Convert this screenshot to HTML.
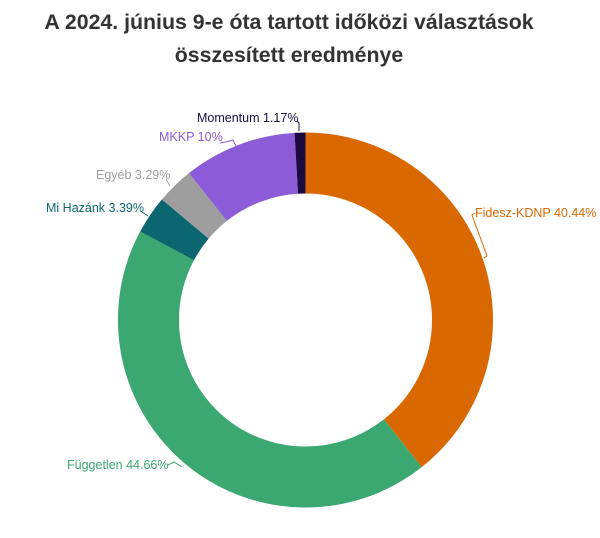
<!DOCTYPE html>
<html><head><meta charset="utf-8"><style>
body{margin:0;width:600px;height:538px;background:#fff;font-family:"Liberation Sans",sans-serif;overflow:hidden}
.t{position:absolute;left:0;width:578px;text-align:center;font-weight:bold;font-size:21.3px;color:#333}
</style></head><body>
<div class="t" style="top:10px">A 2024. június 9-e óta tartott időközi választások</div>
<div class="t" style="top:43px">összesített eredménye</div>
<svg width="600" height="538" style="position:absolute;left:0;top:0">
<g transform="rotate(-90 305.5 320)" fill="none" stroke-width="61">
<circle cx="305.5" cy="320" r="157" stroke="#d96800" stroke-dasharray="388.1 600" stroke-dashoffset="0"/>
<circle cx="305.5" cy="320" r="157" stroke="#3aa870" stroke-dasharray="428.6 600" stroke-dashoffset="-388.1"/>
<circle cx="305.5" cy="320" r="157" stroke="#0b6670" stroke-dasharray="32.5 960" stroke-dashoffset="-816.7"/>
<circle cx="305.5" cy="320" r="157" stroke="#9e9e9e" stroke-dasharray="31.6 960" stroke-dashoffset="-849.2"/>
<circle cx="305.5" cy="320" r="157" stroke="#8c5bd8" stroke-dasharray="96 900" stroke-dashoffset="-880.8"/>
<circle cx="305.5" cy="320" r="157" stroke="#1c0b40" stroke-dasharray="11.2 980" stroke-dashoffset="-976.8"/>
</g>
<g font-size="12.5">
<text x="197" y="122" fill="#1c0b40">Momentum 1.17%</text>
<path d="M297 121 L299 123 L299 131" stroke="#1c0b40" fill="none"/>
<text x="159" y="141" fill="#8c5bd8">MKKP 10%</text>
<path d="M220 143 L226 142 L233 140 L236 146" stroke="#8c5bd8" fill="none"/>
<text x="96" y="179" fill="#9e9e9e">Egyéb 3.29%</text>
<path d="M166 179 L170 186" stroke="#9e9e9e" fill="none"/>
<text x="46" y="212" fill="#0b6670">Mi Hazánk 3.39%</text>
<path d="M142 212 L148 216" stroke="#0b6670" fill="none"/>
<text x="67" y="469" fill="#3aa870">Független 44.66%</text>
<path d="M168 465 L174 462 L182 467" stroke="#3aa870" fill="none"/>
<text x="475" y="217" fill="#d96800">Fidesz-KDNP 40.44%</text>
<path d="M475 213 L472 215 L487 256 L484 258" stroke="#d96800" fill="none"/>
</g>
</svg>
</body></html>
